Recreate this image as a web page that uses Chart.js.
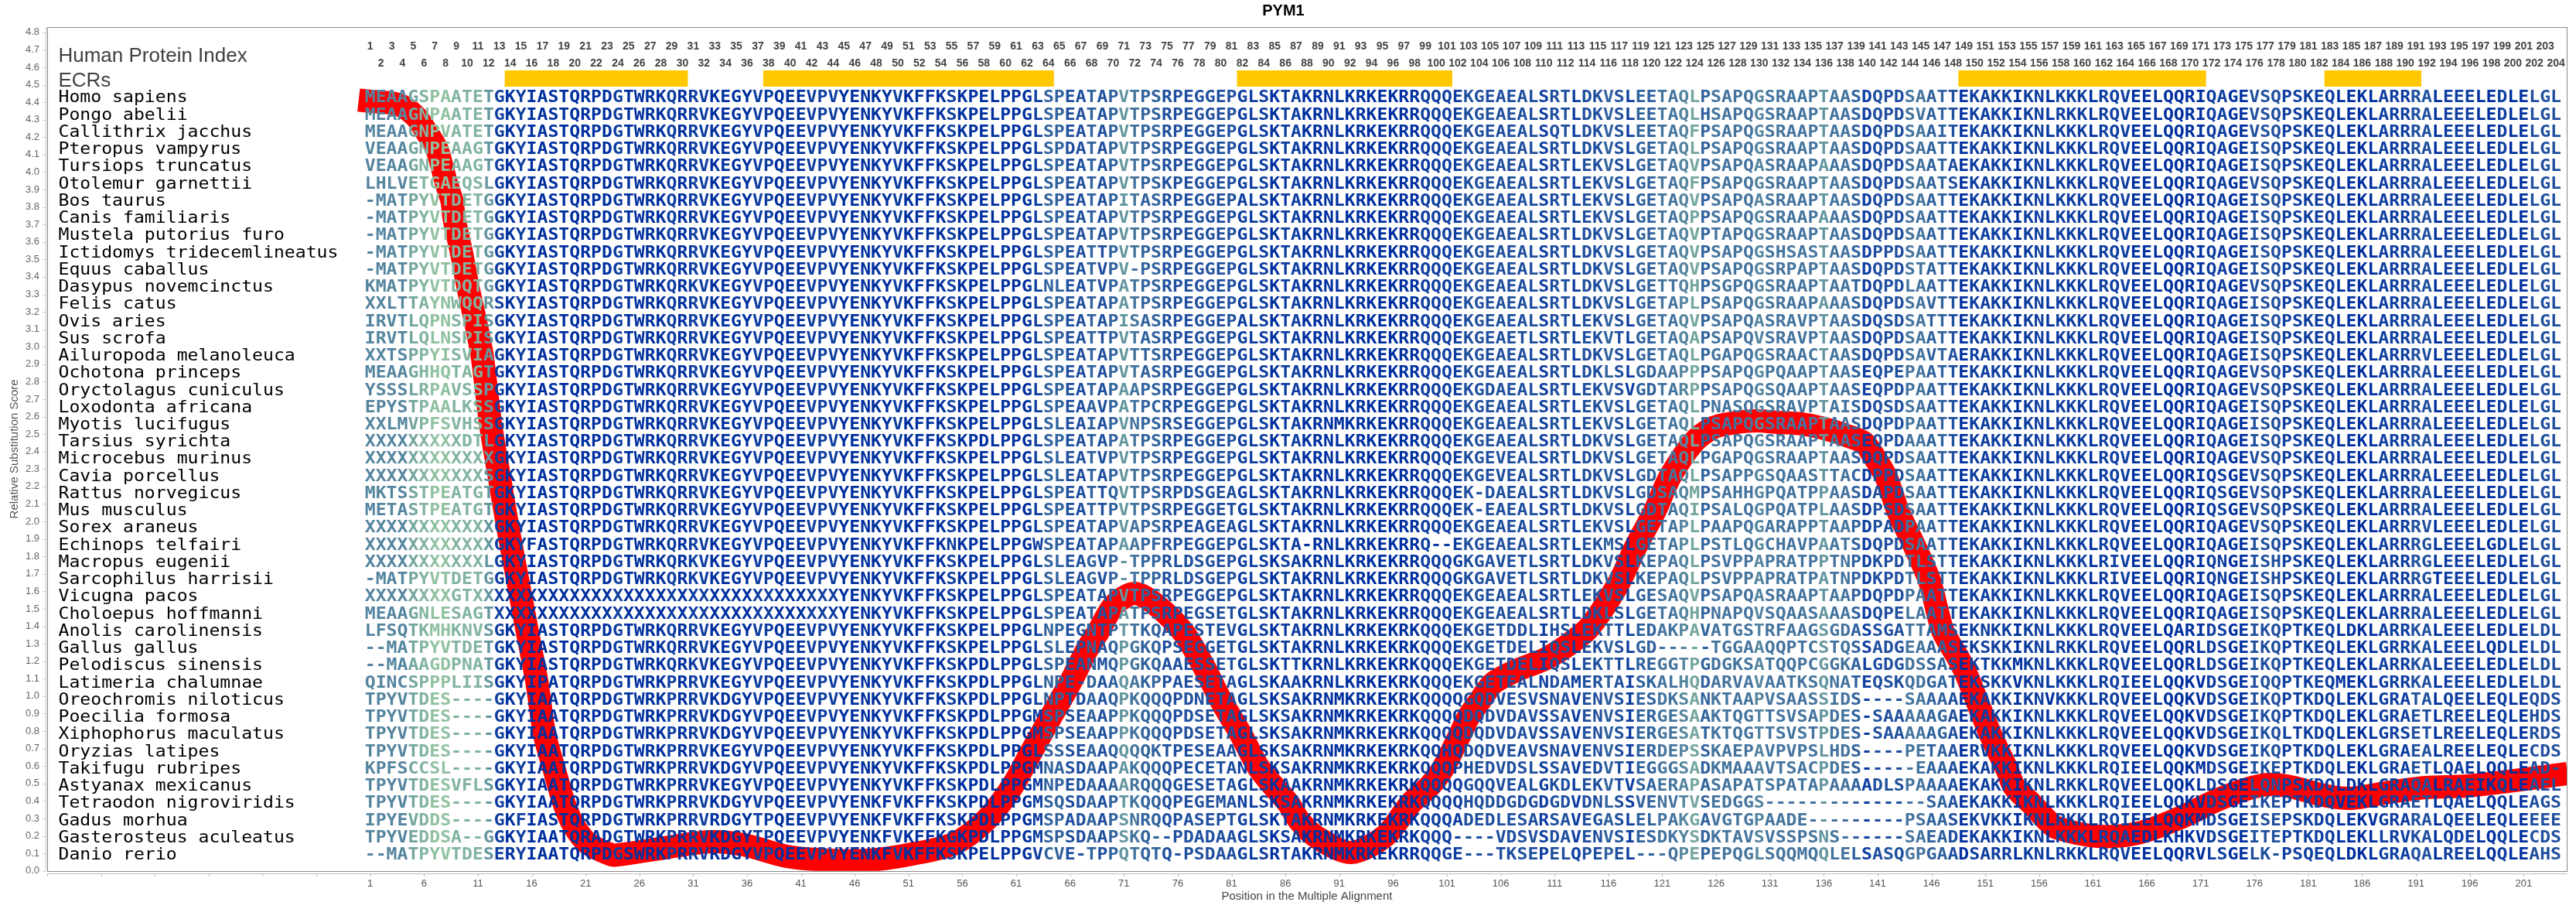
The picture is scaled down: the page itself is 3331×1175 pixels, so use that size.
<!DOCTYPE html>
<html>
<head>
<meta charset="utf-8">
<title>PYM1</title>
<script src="https://cdn.jsdelivr.net/npm/chart.js@4/dist/chart.umd.min.js"></script>
<style>
    html, body { margin: 0; padding: 0; background: #fff; }
    canvas { display: block; }
</style>
</head>
<body>
<canvas id="chart" width="3331" height="1175"></canvas>
<script>
"use strict";

const species = [
    'Homo sapiens', 'Pongo abelii', 'Callithrix jacchus', 'Pteropus vampyrus', 'Tursiops truncatus',
    'Otolemur garnettii', 'Bos taurus', 'Canis familiaris', 'Mustela putorius furo', 'Ictidomys tridecemlineatus',
    'Equus caballus', 'Dasypus novemcinctus', 'Felis catus', 'Ovis aries', 'Sus scrofa',
    'Ailuropoda melanoleuca', 'Ochotona princeps', 'Oryctolagus cuniculus', 'Loxodonta africana', 'Myotis lucifugus',
    'Tarsius syrichta', 'Microcebus murinus', 'Cavia porcellus', 'Rattus norvegicus', 'Mus musculus',
    'Sorex araneus', 'Echinops telfairi', 'Macropus eugenii', 'Sarcophilus harrisii', 'Vicugna pacos',
    'Choloepus hoffmanni', 'Anolis carolinensis', 'Gallus gallus', 'Pelodiscus sinensis', 'Latimeria chalumnae',
    'Oreochromis niloticus', 'Poecilia formosa', 'Xiphophorus maculatus', 'Oryzias latipes', 'Takifugu rubripes',
    'Astyanax mexicanus', 'Tetraodon nigroviridis', 'Gadus morhua', 'Gasterosteus aculeatus', 'Danio rerio'
];

// alignment, one list per stretch of columns, starting at the column in blockStarts
const blockStarts = [1, 13, 64, 82, 103, 125, 149];

const seqHead = [
    'MEAAGSPAATET', 'MEAAGNPAATET', 'MEAAGNPVATET', 'VEAAGNPEAAGT', 'VEAAGNPEAAGT',
    'LHLVETGAEQSL', '-MATPYVTDETG', '-MATPYVTDETG', '-MATPYVTDETG', '-MATPYVTDETG',
    '-MATPYVTDETG', 'KMATPYVTDQTG', 'XXLTTAYNWQQR', 'IRVTLQPNSPIS', 'IRVTLQLNSPIS',
    'XXTSPPYISVIA', 'MEAAGHHQTAGT', 'YSSSLRPAVSSP', 'EPYSTPAALKSS', 'XXLMVPFSVHSS',
    'XXXXXXXXXDTL', 'XXXXXXXXXXXX', 'XXXXXXXXXXXS', 'MKTSSTPEATGT', 'METASTPEATGT',
    'XXXXXXXXXXXX', 'XXXXXXXXXXXX', 'XXXXXXXXXXXL', '-MATPYVTDETG', 'XXXXXXXXGTXX',
    'MEAAGNLESAGT', 'LFSQTKMHKNVS', '--MATPYVTDET', '--MAAAGDPNAT', 'QINCSPPPLIIS',
    'TPYVTDES----', 'TPYVTDES----', 'TPYVTDES----', 'TPYVTDES----', 'KPFSCCSL----',
    'TPYVTDESVFLS', 'TPYVTDES----', 'IPYEVDDS----', 'TPYVEDDSA--G', '--MATPYVTDES'
];

const seqCore = [
    'GKYIASTQRPDGTWRKQRRVKEGYVPQEEVPVYENKYVKFFKSKPELPPGL',
    'GKYIASTQRPDGTWRKQRRVKEGYVPQEEVPVYENKYVKFFKSKPELPPGL',
    'GKYIASTQRPDGTWRKQRRVKEGYVPQEEVPVYENKYVKFFKSKPELPPGL',
    'GKYIASTQRPDGTWRKQRRVKEGYVPQEEVPVYENKYVKFFKSKPELPPGL',
    'GKYIASTQRPDGTWRKQRRVKEGYVPQEEVPVYENKYVKFFKSKPELPPGL',
    'GKYIASTQRPDGTWRKQRRVKEGYVPQEEVPVYENKYVKFFKSKPELPPGL',
    'GKYIASTQRPDGTWRKQRRVKEGYVPQEEVPVYENKYVKFFKSKPELPPGL',
    'GKYIASTQRPDGTWRKQRRVKEGYVPQEEVPVYENKYVKFFKSKPELPPGL',
    'GKYIASTQRPDGTWRKQRRVKEGYVPQEEVPVYENKYVKFFKSKPELPPGL',
    'GKYIASTQRPDGTWRKQRRVKEGYVPQEEVPVYENKYVKFFKSKPELPPGL',
    'GKYIASTQRPDGTWRKQRRVKEGYVPQEEVPVYENKYVKFFKSKPELPPGL',
    'GKYIASTQRPDGTWRKQRKVKEGYVPQEEVPVYENKYVKFFKSKPELPPGL',
    'SKYIASTQRPDGTWRKQRRVKEGYVPQEEVPVYENKYVKFFKSKPELPPGL',
    'GKYIASTQRPDGTWRKQRRVKEGYVPQEEVPVYENKYVKFFKSKPELPPGL',
    'GKYIASTQRPDGTWRKQRRVKEGYVPQEEVPVYENKYVKFFKSKPELPPGL',
    'GKYIASTQRPDGTWRKQRRVKEGYVPQEEVPVYENKYVKFFKSKPELPPGL',
    'GKYIASTQRPDGTWRKQRRVKEGYVPQEEVPVYENKYVKFFKSKPELPPGL',
    'GKYIASTQRPDGTWRKQRRVKEGYVPQEEVPVYENKYVKFFKSKPELPPGL',
    'GKYIASTQRPDGTWRKQRRVKEGYVPQEEVPVYENKYVKFFKSKPELPPGL',
    'GKYIASTQRPDGTWRKQRRVKEGYVPQEEVPVYENKYVKFFKSKPELPPGL',
    'GKYIASTQRPDGTWRKQRRVKEGYVPQEEVPVYENKYVKFFKSKPDLPPGL',
    'GKYIASTQRPDGTWRKQRRVKEGYVPQEEVPVYENKYVKFFKSKPELPPGL',
    'GKYIASTQRPDGTWRKQRRVKEGYVPQEEVPVYENKYVKFFKSKPELPPGL',
    'GKYIASTQRPDGTWRKQRRVKEGYVPQEEVPVYENKYVKFFKSKPELPPGL',
    'GKYIASTQRPDGTWRKQRRVKEGYVPQEEVPVYENKYVKFFKSKPELPPGL',
    'GKYIASTQRPDGTWRKQRRVKEGYVPQEEVPVYENKYVKFFKSKPELPPGL',
    'GKYFASTQRPDGTWRKQRRVKEGYVPQEEVPVYENKYVKFFKNKPELPPGW',
    'GKYIASTQRPDGTWRKQRKVKEGYVPQEEVPVYENKYVKFFKSKPELPPGL',
    'GKYIASTQRPDGTWRKQRKVKEGYVPQEEVPVYENKYVKFFKSKPELPPGL',
    'XXXXXXXXXXXXXXXXXXXXXXXXXXXXXXXXYENKYVKFFKSKPELPPGL',
    'XXXXXXXXXXXXXXXXXXXXXXXXXXXXXXXXYENKYVKFFKSKPELPPGL',
    'GKYIASTQRPDGTWRKQRRVKEGYVPQEEVPVYENKYVKFFKSKPELPPGL',
    'GKYIASTQRPDGTWRKQRRVKEGYVPQEEVPVYENKYVKFFKSKPELPPGL',
    'GKYIASTQRPDGTWRKQRKVKEGYVPQEEVPVYENKYVKFFKSKPDLPPGL',
    'GKYIPATQRPDGTWRKPRRVKEGYVPQEEVPVYENKYVKFFKSKPDLPPGL',
    'GKYIAATQRPDGTWRKPRRVKDGYVPQEEVPVYENKYVKFFKSKPDLPPGL',
    'GKYIAATQRPDGTWRKPRRVKDGYVPQEEVPVYENKYVKFFKSKPDLPPGM',
    'GKYIAATQRPDGTWRKPRRVKDGYVPQEEVPVYENKYVKFFKSKPDLPPGM',
    'GKYIAATQRPDGTWRKPRRVKEGYVPQEEVPVYENKYVKFFKSKPDLPPGL',
    'GKYIAATQRPDGTWRKPRRVKDGYVPQEEVPVYENKYVKFFKSKPDLPPGM',
    'GKYIAATQRPDGTWRKPRRVKEGYVPQEEVPVYENKYVKFFKSKPDLPPGM',
    'GKYIAATQRPDGTWRKPRRVKDGYVPQEEVPVYENKFVKFFKSKPDLPPGM',
    'GKFIASTQRPDGTWRKPRRVRDGYTPQEEVPVYENKFVKFFKSKPDLPPGM',
    'GKYIAATQRADGTWRKPRRVKDGYTPQEEVPVYENKFVKFFKGKPDLPPGM',
    'ERYIAATQRPDGSWRKPRRVRDGYVPQEEVPVYENKFVKFFKSKPELPPGV'
];

const seqLoop = [
    'SPEATAPVTPSRPEGGEP', 'SPEATAPVTPSRPEGGEP', 'SPEATAPVTPSRPEGGEP', 'SPDATAPVTPSRPEGGEP', 'SPEATAPVTPSRPEGGEP',
    'SPEATAPVTPSKPEGGEP', 'SPEATAPITASRPEGGEP', 'SPEATAPVTPSRPEGGEP', 'SPEATAPVTPSRPEGGEP', 'SPEATTPVTPSRPEGGEP',
    'SPEATVPV-PSRPEGGEP', 'NLEATVPATPSRPEGGEP', 'SPEATAPATPSRPEGGEP', 'SPEATAPISASRPEGGEP', 'SPEATTPVTASRPEGGEP',
    'SPEATAPVTTSRPEGGEP', 'SPEATAPVTASRPEGGEP', 'SPEATAPAAPSRPEGGEP', 'SPEAAVPATPCRPEGGEP', 'SLEAIAPVNPSRSEGGEP',
    'SPEATAPATPSRPEGGEP', 'SLEATVPVTPSRPEGGEP', 'SLEATAPVTPSRPEGGEP', 'SPEATTQVTPSRPDSGEA', 'SPEATTPVTPSRPEGGET',
    'SPEATAPVAPSRPEAGEA', 'SPEATAPAAPFRPEGGEP', 'SLEAGVP-TPPRLDSGEP', 'SLEAGVP-TPPRLDSGEP', 'SPEATAPVTPSRPEGGEP',
    'SPEATAPATPSRPEGSET', 'NPEGNTPTTKQAPESTEV', 'SLEPNAQPGKQPSEGGET', 'SPEANMQPGKQAAESSET', 'NPE-DAAQAKPPAESETA',
    'NPTDAAQPKQQQPDNETA', 'SPSEAAPPKQQQPDSETA', 'SPSEAAPPKQQQPDSETA', 'SSSEAAQQQQKTPESEAA', 'NASDAAPAKQQQPECETA',
    'NPEDAAAARQQQGESETA', 'SQSDAAPTKQQQPEGEMA', 'SPADAAPSNRQQPASEPT', 'SPSDAAPSKQ--PDADAA', 'CVE-TPPQTQTQ-PSDAA'
];

const seqBasic = [
    'GLSKTAKRNLKRKEKRRQQQE', 'GLSKTAKRNLKRKEKRRQQQE', 'GLSKTAKRNLKRKEKRRQQQE', 'GLSKTAKRNLKRKEKRRQQQE', 'GLSKTAKRNLKRKEKRRQQQE',
    'GLSKTAKRNLKRKEKRRQQQE', 'ALSKTAKRNLKRKEKRRQQQE', 'GLSKTAKRNLKRKEKRRQQQE', 'GLSKTAKRNLKRKEKRRQQQE', 'GLSKTAKRNLKRKEKRRQQQE',
    'GLSKTAKRNLKRKEKRRQQQE', 'GLSKTAKRNLKRKEKRRQQQE', 'GLSKTAKRNLKRKEKRRQQQE', 'ALSKTAKRNLKRKEKRRQQQE', 'GLSKTAKRNLKRKEKRRQQQE',
    'GLSKTAKRNLKRKEKRRQQQE', 'GLSKTAKRNLKRKEKRRQQQE', 'GLSKTAKRNLKRKEKRRQQQE', 'GLSKTAKRNLKRKEKRRQQQE', 'GLSKTAKRNMKRKEKRRQQQE',
    'GLSKTAKRNLKRKEKRRQQQE', 'GLSKTAKRNLKRKEKRRQQQE', 'GLSKTAKRNLKRKEKRRQQQE', 'GLSKTAKRNLKRKEKRRQQQE', 'GLSKTAKRNLKRKEKRRQQQE',
    'GLSKTAKRNLKRKEKRRQQQE', 'GLSKTA-RNLKRKEKRRQ--E', 'GLSKSAKRNLKRKEKRRQQQG', 'GLSKTAKRNLKRKEKRRQQQG', 'GLSKTAKRNLKRKEKRRQQQE',
    'GLSKTAKRNLKRKEKRRQQQE', 'GLSKTAKRNLKRKEKRKQQQE', 'GLSKTAKRNLKRKEKRKQQQE', 'GLSKTTKRNLKRKEKRKQQQE', 'GLSKAAKRNLKRKEKRKQQQE',
    'GLSKSAKRNMKRKEKRKQQQQ', 'GLSKSAKRNMKRKEKRKQQQQ', 'GLSKSAKRNMKRKEKRKQQQQ', 'GLSKSAKRNMKRKEKRKQQHQ', 'NLSKSAKRNMKRKEKRKQQQP',
    'GLSKAAKRNMKRKEKRKQQQQ', 'NLSKSAKRNMKRKEKRKQQQQ', 'GLSKTAKRNMKRKEKRKQQQA', 'GLSKSAKRNMKRKEKRKQQQ-', 'GLSRTAKRNMKRKEKRRQQGE'
];

const seqMid = [
    'KGEAEALSRTLDKVSLEETAQL', 'KGEAEALSRTLDKVSLEETAQL', 'KGEAEALSQTLDKVSLEETAQF', 'KGEAEALSRTLDKVSLGETAQL', 'KGEAEALSRTLEKVSLGETAQV',
    'KGEAEALSRTLEKVSLGETAQF', 'KGEAEALSRTLEKVSLGETAQV', 'KGEAEALSRTLEKVSLGETAQP', 'KGEAEALSRTLDKVSLGETAQV', 'KGEAEALSRTLDKVSLGETAQV',
    'KGEAEALSRTLDKVSLGETAQV', 'KGEAEALSRTLDKVSLGETTQH', 'KGEAEALSRTLDKVSLGETAPL', 'KGEAEALSRTLEKVSLGETAQV', 'KGEAETLSRTLEKVTLGETAQA',
    'KGEAEALSRTLDKVSLGETAQL', 'KGEAEALSRTLDKLSLGDAAPP', 'KGDAEALSRTLEKVSVGDTARP', 'KGEAEALSRTLEKVSLGETAQL', 'KGEAEALSRTLEKVSLGETAQL',
    'KGEAEALSRTLDKVSLGETAQL', 'KGEVEALSRTLDKVSLGETAQL', 'KGEVEALSRTLDKVSLGDTAQL', 'K-DAEALSRTLDKVSLGDSAQM', 'K-EAEALSRTLDKVSLGDTAQI',
    'KGEAEALSRTLEKVSLGETAPL', 'KGEAEALSRTLEKMSLGETAPL', 'KGAVETLSRTLDKVSLKEPAQL', 'KGAVETLSRTLDKVSLKEPAQL', 'KGEAEALSRTLEKVSLGESAQV',
    'KGEAEALSRTLDKLSLGETAQH', 'KGETDDLIHSLEKTTLEDAKPA', 'KGETDELIQSLEKVSLGD----', 'KGETDELIQSLEKTTLREGGTP', 'KGETEALNDAMERTAISKALHQ',
    'GQDVESVSNAVENVSIESDKSA', 'DQDVDAVSSAVENVSIERGESA', 'DQDVDAVSSAVENVSIERGESA', 'DQDVEAVSNAVENVSIERDEPS', 'HEDVDSLSSAVEDVTIEGGGSA',
    'GQQVEALGKDLEKVTVSAERAP', 'HQDDGDGDGDVDNLSSVENVTV', 'DEDLESARSAVEGASLELPAKG', '---VDSVSDAVENVSIESDKYS', '---TKSEPELQPEPEL---QPE'
];

const seqLink = [
    'PSAPQGSRAAPTAASDQPDSAATT', 'HSAPQGSRAAPTAASDQPDSVATT', 'PSAPQGSRAAPTAASDQPDSAAIT', 'PSAPQGSRAAPTAASDQPDSAATT', 'PSAPQASRAAPAAASDQPDSAATA',
    'PSAPQGSRAAPTAASDQPDSAATS', 'PSAPQASRAAPTAASDQPDSAATT', 'PSAPQGSRAAPAAASDQPDSAATT', 'PTAPQGSRAAPTAASDQPDSAATT', 'PSAPQGSHSASTAASDPPDSAATT',
    'PSAPQGSRPAPTAASDQPDSTATT', 'PSGPQGSRAAPTAATDQPDLAATT', 'PSAPQGSRAAPAAASDQPDSAVTT', 'PSAPQASRAVPTAASDQSDSATTT', 'PSAPQVSRAVPTAASDQPDSAATT',
    'PGAPQGSRAACTAASDQPDSAVTA', 'PSAPQGPQAAPTAASEQPEPAATT', 'PSAPQGSQAAPTAASEQPDPAATT', 'PNASQGSRAVPTAISDQSDSAATT', 'PSAPQGSRAAPTAASDQPDPAATT',
    'PSAPQGSRAAPTAASEQPDAAATT', 'PGAPQGSRAAPTAASDQPDSAATT', 'PSAPPGSQAASTTACDPPDSAATT', 'PSAHHGPQATPPAASDAPDSAATT', 'PSALQGPQATPLAASDPSDSAATT',
    'PAAPQGARAPPTAAPDPADPAATT', 'PSTLQGCHAVPAATSDQPDSAATT', 'PSVPPAPRATPPTNPDKPDTLSTT', 'PSVPPAPRATPATNPDKPDTLSTT', 'PSAPQASRAAPTAAPDQPDPAATT',
    'PNAPQVSQAASAAASDQPELAATT', 'VATGSTRFAAGSGDASSGATTAMS', '-TGGAAQQPTCSTQSSADGEAAAS', 'GDGKSATQQPCGGKALGDGDSSAS', 'DARVAVAATKSQNATEQSKQDGAT',
    'NKTAAPVSAASSIDS----SAAAA', 'AKTQGTTSVSAPDES-SAAAAAGA', 'TKTQGTTSVSTPDES-SAAAAAGA', 'SKAEPAVPVPSLHDS----PETAA', 'DKMAAAVTSACPDES-----EAAA',
    'ASAPATSPATAPAAAADLSPAAAA', 'SEDGGS---------------SAA', 'AVGTGPAADE---------PSAAS', 'DKTAVSVSSPSNS------SAEAD', 'PEPQGLSQQMQQLELSASQGPGAA'
];

const seqTail = [
    'EKAKKIKNLKKKLRQVEELQQRIQAGEVSQPSKEQLEKLARRRALEEELEDLELGL',
    'EKAKKIKNLRKKLRQVEELQQRIQAGEVSQPSKEQLEKLARRRALEEELEDLELGL',
    'EKAKKIKNLKKKLRQVEELQQRIQAGEVSQPSKEQLEKLARRRALEEELEDLELGL',
    'EKAKKIKNLKKKLRQVEELQQRIQAGEISQPSKEQLEKLARRRALEEELEDLELGL',
    'EKAKKIKNLKKKLRQVEELQQRIQAGEISQPSKEQLEKLARRRALEEELEDLELGL',
    'EKAKKIKNLKKKLRQVEELQQRIQAGEVSQPSKEQLEKLARRRALEEELEDLELGL',
    'EKAKKIKNLKKKLRQVEELQQRIQAGEISQPSKEQLEKLARRRALEEELEDLELGL',
    'EKAKKIKNLKKKLRQVEELQQRIQAGEISQPSKEQLEKLARRRALEEELEDLELGL',
    'EKAKKIKNLKKKLRQVEELQQRIQAGEISQPSKEQLEKLARRRALEEELEDLELGL',
    'EKAKKIKNLKKKLRQVEELQQRIQAGEISQPSKEQLEKLARRRALEEELEDLELGL',
    'EKAKKIKNLKKKLRQVEELQQRIQAGEISQPSKEQLEKLARRRALEEELEDLELGL',
    'EKAKKIKNLKKKLRQVEELQQRIQAGEVSQPSKEQLEKLARRRALEEELEDLELGL',
    'EKAKKIKNLKKKLRQVEELQQRIQAGEISQPSKEQLEKLARRRALEEELEDLELGL',
    'EKAKKIKNLKKKLRQVEELQQRIQAGEISQPSKEQLEKLARRRALEEELEDLELGL',
    'EKAKKIKNLKKKLRQVEELQQRIQAGEISQPSKEQLEKLARRRALEEELEDLELGL',
    'ERAKKIKNLKKKLRQVEELQQRIQAGEISQPSKEQLEKLARRRVLEEELEDLELGL',
    'EKAKKIKNLKKKLRQVEELQQRIQAGEVSQPSKEQLEKLARRRALEEELEDLELGL',
    'EKAKKIKNLKKKLRQVEELQQRIQAGEVSQPSKEQLEKLARRRALEEELEDLELGL',
    'EKAKKIKNLKKKLRQVEELQQRIQAGEISQPSKEQLEKLARRRALEEELEDLELGL',
    'EKAKKIKNLKKKLRQVEELQQRIQAGEISQPSKEQLEKLARRRALEEELEDLELGL',
    'EKAKKIKNLKKKLRQVEELQQRIQAGEISQPSKEQLEKLARRRALEEELEDLELGL',
    'EKAKKIKNLKKKLRQVEELQQRIQAGEVSQPSKEQLEKLARRRALEEELEDLELGL',
    'EKAKKIKNLKKKLRQVEELQQRIQSGEVSQPSKEQLEKLARRRALEEELEDLELGL',
    'EKAKKIKNLKKKLRQVEELQQRIQSGEVSQPSKEQLEKLARRRALEEELEDLELGL',
    'EKAKKIKNLKKKLRQVEELQQRIQSGEVSQPSKEQLEKLARRRALEEELEDLELGL',
    'EKAKKIKNLKKKLRQVEELQQRIQAGEVSQPSKEQLEKLARRRVLEEELEDLELGL',
    'EKAKKIKNLKKKLRQVEELQQRIQAGEISQPSKEQLEKLARRRGLEEELGDLELGL',
    'EKAKKIKNLKKKLRIVEELQQRIQNGEISHPSKEQLEKLARRRGLEEELEDLELGL',
    'EKAKKIKNLKKKLRIVEELQQRIQNGEISHPSKEQLEKLARRRGTEEELEDLELGL',
    'EKAKKIKNLKKKLRQVEELQQRIQAGEISQPSKEQLEKLARRRALEEELEDLELGL',
    'EKAKKIKNLKKKLRQVEELQQRIQAGEISQPSKEQLEKLARRRALEEELEDLELGL',
    'EKNKKIKNLKKKLRQVEELQARIDSGEIKQPTKEQLDKLARRKALEEELEDLELDL',
    'EKSKKIKNLRKKLRQVEELQQRLDSGEIKQPTKEQLEKLGRRKALEEELQDLELDL',
    'EKTKKMKNLKKKLRQVEELQQRLDSGEIKQPTKEQLEKLARRKALEEELEDLELDL',
    'EKSKKVKNLKKKLRQIEELQQKVDSGEIQQPTKEQMEKLGRRKALEEELEDLELDL',
    'EKAKKIKNVKKKLRQVEELQQKVDSGEIKQPTKDQLEKLGRATALQEELEQLEQDS',
    'EKAKKIKNLKKKLRQVEELQQKVDSGEIKQPTKDQLEKLGRAETLREELEQLEHDS',
    'EKAKKIKNLKKKLRQVEELQQKVDSGEIKQLTKDQLEKLGRSETLREELEQLERDS',
    'ERVKKIKNLKKKLRQVEELQQKVDSGEIKQPTKDQLEKLGRAEALREELEQLECDS',
    'EKAKKIKNLKKKLRQIEELQQKMDSGEIKEPTKDQLEKLGRAETLQAELQQLEAD-',
    'EKAKKIKNLRKKLRQVEELQQKLDSGELQNPSKDQLDKLGRAQALRAEIKQLEAEL',
    'EKAKKIKNLKKKLRQIEELQQKVDSGEIKEPTKDQVEKLGRAETLQAELQQLEAGS',
    'EKVKKIKNLRKKLRQIEELQQKMDSGEISEPSKDQLEKVGRARALQEELEQLEEEE',
    'EKAKKIKNLKKKLRQAEDLKHKVDSGEITEPTKDQLEKLLRVKALQDELQQLECDS',
    'DSARRLKNLRKKLRQVEELQQRVLSGELK-PSQEQLDKLGRAQALREELQQLEAHS'
];

// conservation tone of each alignment column, 0 dark blue to 9 pale green
const columnTone = [
    5, 5, 5, 5, 7, 8, 9, 9, 8, 8,
    8, 6, 1, 0, 1, 0, 0, 0, 0, 0,
    0, 0, 0, 1, 0, 0, 0, 0, 1, 0,
    1, 1, 0, 0, 0, 0, 1, 1, 0, 0,
    0, 1, 1, 1, 0, 0, 0, 0, 0, 1,
    0, 0, 0, 0, 1, 0, 0, 0, 0, 0,
    0, 0, 1, 3, 3, 2, 2, 3, 2, 3,
    6, 4, 3, 3, 2, 2, 2, 2, 2, 2,
    2, 1, 1, 1, 0, 1, 1, 0, 0, 0,
    0, 0, 0, 0, 0, 0, 0, 0, 1, 1,
    1, 1, 2, 2, 2, 2, 2, 2, 2, 1,
    2, 2, 1, 2, 2, 3, 2, 1, 3, 3,
    4, 4, 5, 7, 3, 4, 4, 4, 4, 5,
    4, 4, 4, 4, 4, 6, 4, 4, 3, 1,
    2, 2, 2, 4, 4, 3, 3, 2, 0, 1,
    1, 1, 1, 0, 1, 1, 0, 1, 1, 1,
    0, 1, 1, 1, 0, 0, 0, 0, 0, 0,
    0, 1, 1, 0, 0, 2, 2, 2, 1, 1,
    1, 1, 1, 0, 0, 0, 0, 1, 1, 1,
    2, 2, 0, 1, 1, 1, 0, 0, 1, 0,
    0, 2, 2, 2
];

const tonePalette = [
    '#00309f', '#0e3ea0', '#1f4f9e', '#30629e', '#44749e',
    '#55859f', '#64969f', '#74a69f', '#82b4a0', '#90c1a0'
];

const curveX = [
    1, 3.6, 5.2, 6.3, 7.2, 7.7, 8.1, 8.6, 8.8, 9.5, 10.1, 10.8, 11.4, 12.2, 13, 13.8, 14.7, 15.6, 16.5, 17.2,
    18.1, 19, 19.9, 21.2, 23.4, 24.1, 28.4, 32.6, 35.7, 39.7, 43.6, 47.4, 51.3, 55.3, 58.2, 60.6, 62.4, 64.2, 66, 67.6,
    68.6, 70.1, 72, 74, 76.5, 78.4, 80, 81.9, 83.6, 86.3, 87.3, 89, 92.1, 95.3, 97.6, 99.4, 100.6, 102.2, 103, 104.1,
    105.3, 107.4, 110.4, 113.8, 115.2, 117.1, 118.6, 120.3, 121.7, 123.9, 125.7, 127.5, 129.7, 131.8, 134, 135.8, 137.9, 139.7, 140.8, 141.8,
    142.9, 144.4, 145.8, 146.6, 147.1, 148.9, 150.2, 151.5, 153, 153.7, 155.3, 156.8, 157.6, 161.4, 165.2, 169.1, 172.9, 176.7, 179, 182.4,
    185, 188.1, 191.9, 195.7, 199.5, 204
];
const curveScore = [
    4.405, 4.387, 4.32, 4.223, 4.13, 4.024, 3.931, 3.833, 3.732, 3.532, 3.337, 3.138, 2.948, 2.549, 2.253, 1.96, 1.664, 1.367, 1.075, 0.778,
    0.579, 0.388, 0.26, 0.158, 0.092, 0.092, 0.132, 0.167, 0.149, 0.083, 0.061, 0.061, 0.096, 0.158, 0.291, 0.481, 0.681, 0.88, 1.075, 1.27,
    1.367, 1.522, 1.588, 1.522, 1.367, 1.172, 0.977, 0.778, 0.583, 0.384, 0.286, 0.189, 0.105, 0.202, 0.384, 0.486, 0.583, 0.778, 0.88, 0.977,
    1.075, 1.146, 1.221, 1.367, 1.473, 1.664, 1.863, 2.058, 2.253, 2.452, 2.536, 2.563, 2.576, 2.567, 2.558, 2.536, 2.496, 2.452, 2.359, 2.253,
    2.058, 1.863, 1.664, 1.473, 1.367, 1.172, 0.977, 0.778, 0.583, 0.481, 0.384, 0.286, 0.247, 0.198, 0.216, 0.304, 0.415, 0.49, 0.486, 0.433,
    0.415, 0.446, 0.477, 0.486, 0.512, 0.548
];

const ecrStart = [13.5, 37.5, 81.5, 148.5, 182.5];
const ecrEnd = [30.5, 64.5, 101.5, 171.5, 191.5];

const xTickValues = [
    -29, -24, -19, -14, -9, -4, 1, 6, 11, 16, 21, 26, 31, 36, 41, 46, 51, 56, 61, 66, 71, 76, 81, 86,
    91, 96, 101, 106, 111, 116, 121, 126, 131, 136, 141, 146, 151, 156, 161, 166, 171, 176, 181, 186, 191, 196, 201
];
const yTickValues = [
    0, 0.1, 0.2, 0.3, 0.4, 0.5, 0.6, 0.7, 0.8, 0.9, 1, 1.1, 1.2, 1.3, 1.4, 1.5, 1.6, 1.7, 1.8, 1.9, 2, 2.1, 2.2, 2.3, 2.4,
    2.5, 2.6, 2.7, 2.8, 2.9, 3, 3.1, 3.2, 3.3, 3.4, 3.5, 3.6, 3.7, 3.8, 3.9, 4, 4.1, 4.2, 4.3, 4.4, 4.5, 4.6, 4.7, 4.8
];

const columnPitch = 13.92;
const monoStretch = columnPitch / 12.34;
const rowTopScore = 4.4224;
const rowStepScore = 0.0985;
const textColumn = -27.96;

function drawAxisFrame(chart) {
    const ctx = chart.ctx;
    const area = chart.chartArea;
    const xScale = chart.scales.x;
    const yScale = chart.scales.y;
    const axisX = area.left - 2.5;
    const axisY = area.bottom + 3.5;

    ctx.save();
    ctx.lineWidth = 1;
    ctx.strokeStyle = '#8a8a8a';
    ctx.strokeRect(Math.round(area.left) + 0.5, Math.round(area.top) + 0.5,
        Math.round(area.width), Math.round(area.height));

    ctx.strokeStyle = '#bdbdbd';
    ctx.beginPath();
    ctx.moveTo(Math.round(axisX) + 0.5, area.top);
    ctx.lineTo(Math.round(axisX) + 0.5, area.bottom);
    ctx.moveTo(area.left, Math.round(axisY) + 0.5);
    ctx.lineTo(area.right, Math.round(axisY) + 0.5);
    yTickValues.forEach(function (value) {
        const y = Math.round(yScale.getPixelForValue(value)) + 0.5;
        ctx.moveTo(axisX - 3, y);
        ctx.lineTo(axisX, y);
    });
    xTickValues.forEach(function (value) {
        const x = Math.round(xScale.getPixelForValue(value)) + 0.5;
        ctx.moveTo(x, axisY);
        ctx.lineTo(x, axisY + 4);
    });
    ctx.stroke();
    ctx.restore();
}

function drawPositionLabels(chart) {
    const ctx = chart.ctx;
    const xScale = chart.scales.x;
    const yScale = chart.scales.y;

    ctx.save();
    ctx.font = 'bold 14px "Liberation Sans"';
    ctx.fillStyle = '#444444';
    ctx.textAlign = 'center';
    ctx.textBaseline = 'middle';
    for (let column = 1; column <= 204; column++) {
        const score = column % 2 === 1 ? 4.719 : 4.621;
        ctx.fillText(String(column), xScale.getPixelForValue(column), yScale.getPixelForValue(score));
    }
    ctx.restore();
}

function drawHeadings(chart) {
    const ctx = chart.ctx;
    const x = chart.scales.x.getPixelForValue(textColumn);
    const yScale = chart.scales.y;

    ctx.save();
    ctx.font = '26px "Liberation Sans"';
    ctx.fillStyle = '#404040';
    ctx.textAlign = 'left';
    ctx.textBaseline = 'middle';
    ctx.fillText('Human Protein Index', x, yScale.getPixelForValue(4.663));
    ctx.fillText('ECRs', x, yScale.getPixelForValue(4.52));
    ctx.restore();
}

function drawSpeciesNames(chart) {
    const ctx = chart.ctx;
    const x = chart.scales.x.getPixelForValue(textColumn);
    const yScale = chart.scales.y;

    ctx.save();
    ctx.font = '20.5px "DejaVu Sans Mono"';
    ctx.fillStyle = '#000000';
    ctx.textAlign = 'left';
    ctx.textBaseline = 'middle';
    species.forEach(function (name, row) {
        const y = yScale.getPixelForValue(rowTopScore - row * rowStepScore);
        ctx.save();
        ctx.translate(x, y);
        ctx.scale(monoStretch, 1);
        ctx.fillText(name, 0, 0);
        ctx.restore();
    });
    ctx.restore();
}

function drawAlignment(chart) {
    const ctx = chart.ctx;
    const xScale = chart.scales.x;
    const yScale = chart.scales.y;
    const blocks = [seqHead, seqCore, seqLoop, seqBasic, seqMid, seqLink, seqTail];

    ctx.save();
    ctx.font = 'bold 20.5px "DejaVu Sans Mono"';
    ctx.textAlign = 'center';
    ctx.textBaseline = 'middle';
    species.forEach(function (name, row) {
        const y = yScale.getPixelForValue(rowTopScore - row * rowStepScore);
        blocks.forEach(function (block, b) {
            const text = block[row];
            for (let i = 0; i < text.length; i++) {
                const column = blockStarts[b] + i;
                ctx.save();
                ctx.translate(xScale.getPixelForValue(column), y);
                ctx.scale(monoStretch, 1);
                ctx.fillStyle = tonePalette[columnTone[column - 1]];
                ctx.fillText(text[i], 0, 0);
                ctx.restore();
            }
        });
    });
    ctx.restore();
}

const alignmentPlugin = {
    id: 'alignment',
    beforeDatasetsDraw: function (chart) {
        drawAxisFrame(chart);
    },
    afterDatasetsDraw: function (chart) {
        drawPositionLabels(chart);
        drawHeadings(chart);
        drawSpeciesNames(chart);
        drawAlignment(chart);
    }
};

function buildDatasets() {
    const datasets = ecrStart.map(function (start, i) {
        return {
            label: 'ECR ' + (i + 1),
            data: [{ x: start, y: 4.535 }, { x: ecrEnd[i], y: 4.535 }],
            showLine: true,
            borderColor: '#ffc800',
            borderWidth: 21,
            borderCapStyle: 'butt',
            pointRadius: 0,
        };
    });

    datasets.push({
        label: 'Relative Substitution Score',
        data: curveX.map(function (x, i) {
            return { x: x, y: curveScore[i] };
        }),
        showLine: true,
        borderColor: '#ff0000',
        borderWidth: 30,
        borderCapStyle: 'square',
        borderJoinStyle: 'round',
        tension: 0.3,
        pointRadius: 0,
    });
    return datasets;
}

new Chart(document.getElementById('chart'), {
    type: 'scatter',
    data: { datasets: buildDatasets() },
    plugins: [alignmentPlugin],
    options: {
        responsive: false,
        devicePixelRatio: 1,
        animation: false,
        events: [],
        layout: { padding: { right: 12 } },
        plugins: {
            legend: { display: false },
            tooltip: { enabled: false },
            title: {
                display: true,
                text: 'PYM1',
                color: '#000000',
                font: { family: '"Liberation Sans"', size: 20, weight: 'bold' },
                padding: { top: 2, bottom: 9 },
            },
        },
        scales: {
            x: {
                type: 'linear',
                min: -29,
                max: 205,
                afterFit: function (scale) {
                    scale.height = 49.3;
                },
                afterBuildTicks: function (scale) {
                    scale.ticks = xTickValues.map(function (value) {
                        return { value: value };
                    });
                },
                grid: { display: false, drawTicks: false },
                border: { display: false },
                ticks: {
                    color: '#555555',
                    font: { family: '"Liberation Sans"', size: 13 },
                    padding: 9,
                    autoSkip: false,
                    maxRotation: 0,
                    callback: function (value) {
                        return value < 1 ? '' : String(value);
                    },
                },
                title: {
                    display: true,
                    text: 'Position in the Multiple Alignment',
                    color: '#444444',
                    font: { family: '"Liberation Sans"', size: 15 },
                    padding: { top: 0, bottom: 7 },
                },
            },
            y: {
                type: 'linear',
                min: 0,
                max: 4.83,
                afterFit: function (scale) {
                    scale.width = 61;
                },
                afterBuildTicks: function (scale) {
                    scale.ticks = yTickValues.map(function (value) {
                        return { value: value };
                    });
                },
                grid: { display: false, drawTicks: false },
                border: { display: false },
                ticks: {
                    color: '#666666',
                    font: { family: '"Liberation Sans"', size: 13 },
                    padding: 10,
                    autoSkip: false,
                    callback: function (value) {
                        return value.toFixed(1);
                    },
                },
                title: {
                    display: true,
                    text: 'Relative Substitution Score',
                    color: '#555555',
                    font: { family: '"Liberation Sans"', size: 15 },
                    padding: { top: 10, bottom: 0 },
                },
            },
        },
    },
});
</script>
</body>
</html>
